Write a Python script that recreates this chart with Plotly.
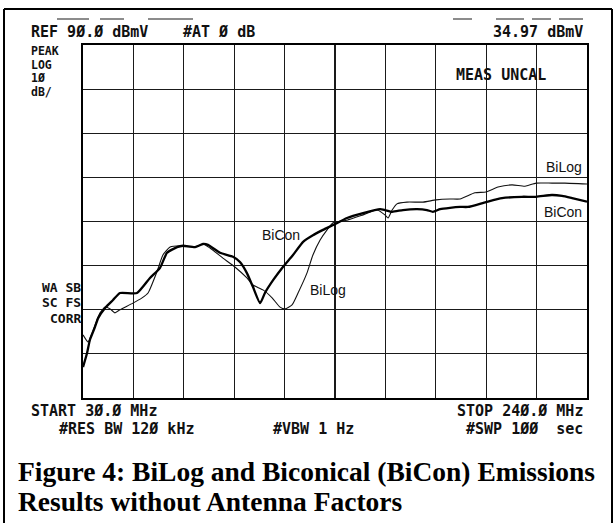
import plotly.graph_objects as go

# ---- data (frequency MHz, level dBmV) ----
bicon_f = [30, 31.7, 32.9, 35.0, 36.3, 39.2, 42.5, 45.4, 52.5, 57.9, 62.1, 65.0, 69.2, 71.7,
           76.7, 80.0, 82.1, 87.1, 92.5, 95.4, 98.3, 100.8, 103.8, 105.8, 109.2, 113.3,
           117.5, 121.7, 125.8, 130.0, 134.2, 140.0, 146.7, 153.8, 155.8, 158.8, 163.3,
           169.2, 173.3, 175.8, 178.8, 182.9, 187.1, 190.4, 197.9, 204.6, 212.9, 218.8,
           225.4, 229.6, 233.8, 240.0]
bicon_v = [17.0, 20.2, 23.2, 26.1, 28.1, 30.4, 32.2, 33.8, 33.8, 37.2, 39.5, 42.9, 44.2, 44.5,
           44.2, 44.9, 44.7, 42.9, 42.0, 40.8, 38.3, 35.2, 31.5, 33.8, 36.7, 39.7,
           42.4, 45.4, 46.9, 48.1, 49.2, 50.8, 51.9, 52.8, 52.6, 52.2, 52.6,
           52.8, 52.6, 52.2, 52.8, 53.1, 53.3, 53.3, 54.4, 55.3, 55.6, 55.6,
           56.0, 55.8, 55.3, 54.5]

bilog_f = [30, 32.1, 33.8, 35.0, 37.1, 39.2, 41.3, 43.3, 45.4, 50.8, 54.6, 57.1, 60.8, 63.3,
           66.3, 70.4, 76.7, 80.0, 82.9, 88.3, 93.3, 98.3, 100.8, 105.0, 108.8, 112.1,
           114.2, 117.1, 119.6, 123.3, 125.8, 128.8, 131.7, 134.2, 140.0, 146.7, 152.5,
           155.8, 157.1, 158.8, 160.8, 165.0, 171.7, 177.1, 182.9, 187.1, 193.3, 197.9,
           202.9, 208.8, 214.2, 218.8, 225.4, 230.8, 240.0]
bilog_v = [24.3, 22.7, 24.7, 26.5, 29.3, 30.6, 30.2, 29.3, 30.0, 31.5, 32.7, 33.8, 38.6, 42.4,
           44.2, 44.5, 44.2, 44.9, 44.0, 41.7, 39.7, 37.2, 35.6, 34.5, 32.7, 30.6,
           30.2, 31.1, 33.8, 38.3, 42.4, 45.8, 48.1, 49.7, 50.3, 51.5, 52.6,
           51.5, 50.8, 52.6, 54.0, 54.4, 54.4, 54.9, 55.1, 55.1, 56.5, 56.7,
           57.8, 58.3, 58.0, 58.7, 58.7, 58.7, 58.5]

f_start, f_stop = 30, 240
ref_level, bottom_level = 90, 10

# ---- layout geometry (pixels) ----
W, H = 615, 523
L, R, T, B = 83, 587, 45, 398


def P(x, y):
    return (x - L) / (R - L), (B - y) / (B - T)


fig = go.Figure()
fig.add_trace(go.Scatter(x=bilog_f, y=bilog_v, mode="lines", name="BiLog",
                         line=dict(color="#111", width=1.1, shape="spline", smoothing=0.5)))
fig.add_trace(go.Scatter(x=bicon_f, y=bicon_v, mode="lines", name="BiCon",
                         line=dict(color="#000", width=2.3, shape="spline", smoothing=0.5)))

mono = dict(family="DejaVu Sans Mono", size=15, color="#111")
annots = []


def txt(x, y, s, anchor="left", font=None):
    px, py = P(x, y)
    annots.append(dict(x=px, y=py, xref="paper", yref="paper", text=s, showarrow=False,
                       xanchor=anchor, yanchor="middle", font=font or mono, borderpad=0))


bold = lambda s: "<b>" + s + "</b>"
col = dict(family="DejaVu Sans Mono", size=11.5, color="#111")
side = dict(family="DejaVu Sans Mono", size=13, color="#111")
txt(30, 32, bold("REF 9Ø.Ø dBmV"))
txt(182, 32, bold("#AT Ø dB"))
txt(584, 32, bold("34.97 dBmV"), "right")
txt(30, 51, bold("PEAK"), font=col)
txt(30, 64.5, bold("LOG"), font=col)
txt(30, 78, bold("1Ø"), font=col)
txt(30, 91.5, bold("dB/"), font=col)
txt(455, 75, bold("MEAS UNCAL"))
txt(82, 287, bold("WA SB"), "right", font=side)
txt(82, 302.5, bold("SC FS"), "right", font=side)
txt(82, 318, bold("CORR"), "right", font=side)
txt(30, 411, bold("START 3Ø.Ø MHz"))
txt(584, 411, bold("STOP 24Ø.Ø MHz"), "right")
txt(58, 429, bold("#RES BW 12Ø kHz"))
txt(272, 429, bold("#VBW 1 Hz"))
txt(584, 429, bold("#SWP 1ØØ  sec"), "right")

lab = dict(family="Liberation Sans", size=14, color="#111")
txt(545, 167, "BiLog", font=lab)
txt(543, 212, "BiCon", font=lab)
txt(261, 235, "BiCon", font=lab)
txt(309, 290, "BiLog", font=lab)

cap = dict(family="Liberation Serif", size=27.5, color="#000")
txt(17, 471, bold("Figure 4: BiLog and Biconical (BiCon) Emissions"), font=cap)
txt(17, 501, bold("Results without Antenna Factors"), font=cap)

shapes = []


def seg(x0, y0, x1, y1, w=2, c="#000"):
    a, b = P(x0, y0)
    cc, d = P(x1, y1)
    shapes.append(dict(type="line", xref="paper", yref="paper", x0=a, y0=b, x1=cc, y1=d,
                       line=dict(color=c, width=w)))


# outer frame
seg(4, 9, 612, 9)
seg(4, 9, 4, 523)
seg(612, 9, 612, 523)
# faint clipped text remnants at top
for x0, x1 in [(57, 89), (100, 124), (148, 193), (453, 472), (496, 524), (532, 551), (559, 583)]:
    seg(x0, 19, x1, 19, 1.5, "#666")

fig.update_layout(
    width=W, height=H, margin=dict(l=L, r=W - R, t=T, b=H - B),
    paper_bgcolor="white", plot_bgcolor="white", showlegend=False,
    annotations=annots, shapes=shapes,
)
fig.update_xaxes(range=[f_start, f_stop], dtick=(f_stop - f_start) / 10, tick0=f_start,
                 showgrid=True, gridcolor="#1a1a1a", gridwidth=1.2, showticklabels=False,
                 ticks="", zeroline=False, showline=True, linecolor="#000", linewidth=2,
                 mirror=True)
fig.update_yaxes(range=[bottom_level, ref_level], dtick=10, tick0=bottom_level,
                 showgrid=True, gridcolor="#1a1a1a", gridwidth=1.2, showticklabels=False,
                 ticks="", zeroline=False, showline=True, linecolor="#000", linewidth=2,
                 mirror=True)

fig.write_html("out.html", config={"staticPlot": True, "displayModeBar": False},
               post_script="document.body.style.margin='0';")
